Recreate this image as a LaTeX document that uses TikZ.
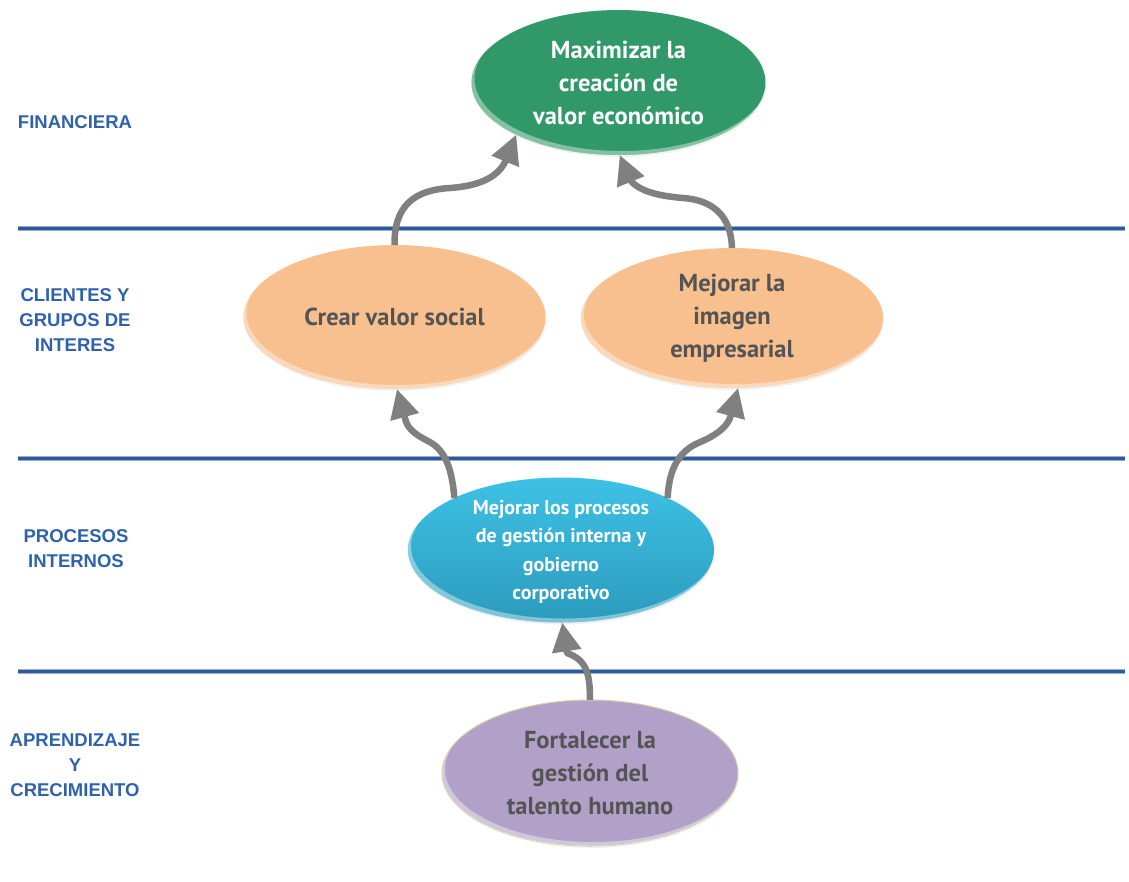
\documentclass[tikz,border=0pt]{standalone}
\usepackage{fontspec}
\setmainfont{PT Sans}
\newfontfamily\labelfont{Liberation Sans}
\usetikzlibrary{shapes.geometric, arrows.meta, shadows}

\definecolor{lineblue}{HTML}{2E5A9C}
\definecolor{lineglow}{HTML}{94AED8}
\definecolor{labelblue}{HTML}{2E62AC}
\definecolor{goalgreen}{HTML}{31986A}
\definecolor{goalorange}{HTML}{F8C08F}
\definecolor{goalbluetop}{HTML}{3DC1E5}
\definecolor{goalbluebot}{HTML}{2C9BBD}
\definecolor{goalpurple}{HTML}{B1A1C8}
\definecolor{purplerim}{HTML}{D4CBA2}
\definecolor{darktext}{HTML}{545454}
\definecolor{arrowgray}{HTML}{808080}

% soft light band along the lower-left rim of an elliptic node
\newcommand\rimlight[3]{%
  \begin{scope}
    \clip (#1.center) ellipse [x radius=#2, y radius=#3];
    \fill[white, opacity=.4, even odd rule]
      (#1.center) ellipse [x radius=#2, y radius=#3]
      ([shift={(3,-4)}]#1.center) ellipse [x radius=#2, y radius=#3];
  \end{scope}}

\begin{document}
\begin{tikzpicture}[x=1pt, y=-1pt,
  bandglow/.style={line width=5pt, lineglow},
  bandcore/.style={line width=3pt, lineblue},
  persp/.style={font=\labelfont\bfseries\fontsize{18.5}{25}\selectfont,
                text=labelblue, align=center, inner sep=0},
  goal/.style={ellipse, inner sep=0, outer sep=0,
               drop shadow={opacity=0.1, shadow xshift=1pt, shadow yshift=-2pt}},
  goaltext/.style={align=center, inner sep=0, font=\bfseries\fontsize{24.5}{33}\selectfont},
  link/.style={arrowgray, line width=6.5pt, line join=round,
               -{Triangle[length=29pt, width=28pt]}}
]
\useasboundingbox[fill=white] (0,0) rectangle (1129,881);

% perspective separators
\foreach \yy in {228,458,671}{
  \coordinate (sepL) at (18,\yy);
  \coordinate (sepR) at (1125,\yy);
  \draw[bandglow] (sepL) -- (sepR);
  \draw[bandcore] (sepL) -- (sepR);
}

% perspective names
\node[persp] (fin)  at (75,122) {FINANCIERA};
\node[persp] (cli)  at (75,320) {CLIENTES Y\\GRUPOS DE\\INTERES};
\node[persp] (pro)  at (76,549) {PROCESOS\\INTERNOS};
\node[persp] (apr)  at (75,765) {APRENDIZAJE\\Y\\CRECIMIENTO};

% objectives
\node[goal, fill=goalgreen, minimum width=294pt, minimum height=145pt] (econ) at (618.5,82.5) {};
\rimlight{econ}{147}{72.5}
\node[goaltext, text=white] (econtxt) at (econ) {Maximizar la\\creación de\\valor económico};

\node[goal, fill=goalorange, minimum width=302pt, minimum height=144pt] (social) at (394.5,317) {};
\rimlight{social}{151}{72}
\node[goaltext, text=darktext] (socialtxt) at (social) {Crear valor social};

\node[goal, fill=goalorange, minimum width=302pt, minimum height=140pt] (imagen) at (732,318) {};
\rimlight{imagen}{151}{70}
\node[goaltext, text=darktext] (imagentxt) at (imagen) {Mejorar la\\imagen\\empresarial};

\node[goal, top color=goalbluetop, bottom color=goalbluebot, minimum width=306pt, minimum height=145pt] (proc) at (561,550) {};
\rimlight{proc}{153}{72.5}
\node[align=center, inner sep=0, text=white, font=\bfseries\fontsize{20}{28.3}\selectfont] (proctxt) at (561,552)
  {Mejorar los procesos\\de gestión interna y\\gobierno\\corporativo};

\node[goal, fill=goalpurple, draw=purplerim, line width=1pt, minimum width=296pt, minimum height=146pt] (talento) at (590,773) {};
\rimlight{talento}{148}{73}
\node[goaltext, text=darktext] (talentotxt) at (talento) {Fortalecer la\\gestión del\\talento humano};

% cause-effect links
\draw[link] (social.north) .. controls (394,205) and (415,190) .. (450,188)
            .. controls (478,186) and (497,178) .. (505,162) -- (econ.207);
\draw[link] (imagen.north) .. controls (731,215) and (712,200) .. (683,198)
            .. controls (660,196) and (640,192) .. (630,180) -- (econ.271);
\draw[link] (proc.154) .. controls (452,470) and (446,450) .. (428,441)
            .. controls (414,434) and (407,428) .. (405,418) -- (social.272);
\draw[link] (proc.26) .. controls (669,470) and (678,452) .. (698,443)
            .. controls (715,436) and (726,428) .. (730,418) -- (imagen.275);
\draw[link] (talento.north) .. controls (590,672) and (586,660) .. (567,653) -- (proc.271);
\end{tikzpicture}
\end{document}
